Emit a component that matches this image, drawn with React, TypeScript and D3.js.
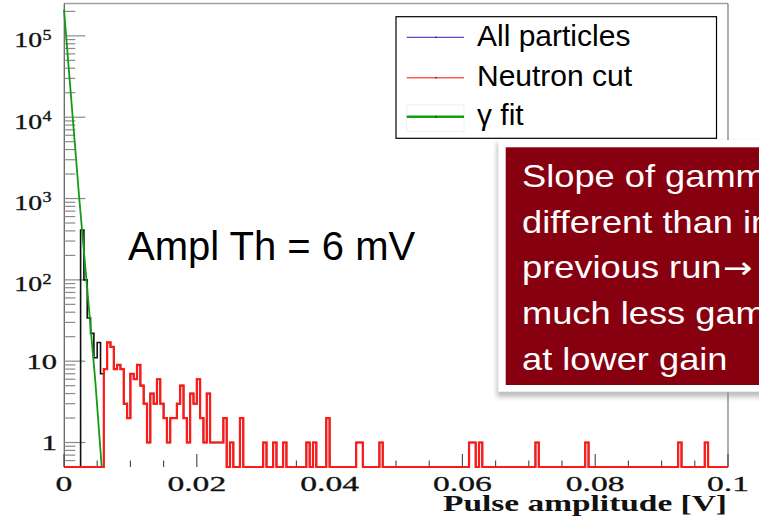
import React from "react";
import * as d3 from "d3";

const binWidth = 0.0005;
const nBins = 200;

// all particles, first bins below the neutron cut (from 0 V)
const allLowCounts = [0, 0, 0, 0, 0, 410, 100, 34, 22, 11, 17, 7];

// neutron cut, dense part starting at 0.006 V
const neutronStart = 0.006;
const neutronDense = [
  8, 17, 15, 8, 9, 8, 3, 2, 7, 6, 9, 5, 3, 1, 4, 3, 6, 3, 2, 1, 2, 2, 3, 5, 2, 1,
  4, 3, 6, 2, 1, 4, 1, 1, 1, 1, 2, 0, 1, 0, 0, 2,
];

// single entries in the tail (bin low edge in V, counts)
const tailEdges = [
  0.03, 0.0315, 0.033, 0.0365, 0.0375, 0.0395, 0.044, 0.0445, 0.0475, 0.061,
  0.0615, 0.0625, 0.071, 0.0785, 0.0925, 0.0965,
];
const tailCounts = [1, 1, 1, 1, 1, 2, 1, 1, 1, 1, 1, 1, 1, 1, 1, 1];

// gamma fit curve
const fitX = [0, 0.0023, 0.0047, 0.00568];
const fitY = [2.1e5, 1000, 5.9, 0.5];

const xTicks = [0, 0.02, 0.04, 0.06, 0.08, 0.1];
const xTickLabels = ["0", "0.02", "0.04", "0.06", "0.08", "0.1"];
const yMajors = [1, 10, 100, 1000, 10000, 100000];
const yTickBase = ["1", "10", "10", "10", "10", "10"];
const yTickExp = ["", "", "2", "3", "4", "5"];

const legendLabels = ["All particles", "Neutron cut", "\u03b3 fit"];
const legendColors = ["#5050d0", "#ff5a5a", "#10a010"];
const legendWidths = [1.2, 1.5, 2.5];

const noteLines = [
  "Slope of gamma is",
  "different than in",
  "previous run",
  "much less gamma",
  "at lower gain",
];

const W = 759;
const H = 523;
const serif = "'Liberation Serif', 'Times New Roman', serif";
const sans = "'Liberation Sans', Arial, sans-serif";

const x = d3.scaleLinear().domain([0, 0.1]).range([64, 728]);
const y = d3.scaleLog().domain([0.5, 2.5e5]).range([467, 3.5]).clamp(true);
const yMin = 0.5;

function buildCounts() {
  const neutron = new Array(nBins).fill(0);
  const i0 = Math.round(neutronStart / binWidth);
  neutronDense.forEach((c, i) => (neutron[i0 + i] = c));
  tailEdges.forEach((e, i) => (neutron[Math.round(e / binWidth)] = tailCounts[i]));
  const all = neutron.map((c, i) => (i < allLowCounts.length ? allLowCounts[i] : c));
  return { neutron, all };
}

const histLine = d3
  .line<[number, number]>()
  .x((d) => x(d[0]))
  .y((d) => y(d[1] > 0 ? d[1] : yMin))
  .curve(d3.curveStepAfter);

function histPath(counts: number[]) {
  const pts: [number, number][] = [[0, 0]];
  counts.forEach((c, i) => pts.push([i * binWidth, c]));
  pts.push([nBins * binWidth, counts[counts.length - 1]]);
  pts.push([nBins * binWidth, 0]);
  return histLine(pts) || "";
}

export default function App() {
  const { neutron, all } = buildCounts();

  const fitLine = d3
    .line<number>()
    .x((d) => x(d))
    .y((_, i) => y(fitY[i]));

  const yTicks = y.ticks();
  const isMajor = (v: number) => Math.abs(Math.log10(v) - Math.round(Math.log10(v))) < 1e-6;
  const xMinor = d3.range(0, 0.1001, 0.005).filter((v) => !xTicks.some((t) => Math.abs(t - v) < 1e-6));

  const base = y(yMin);

  return (
    <svg
      width={W}
      height={H}
      style={{ position: "absolute", left: 0, top: 0, background: "#fff" }}
    >
      <defs>
        <filter id="blur" x="-10%" y="-10%" width="120%" height="120%">
          <feGaussianBlur stdDeviation="2.5" />
        </filter>
      </defs>

      {/* frame */}
      <line x1={64} x2={728} y1={3.5} y2={3.5} stroke="#a0a0a0" strokeWidth={1.5} />
      <line x1={728} x2={728} y1={3.5} y2={467} stroke="#777" strokeWidth={1.2} />
      <line x1={64.3} x2={64.3} y1={3.5} y2={467} stroke="#666" strokeWidth={1.3} />

      {/* y ticks */}
      {yTicks.map((v, i) => (
        <line
          key={"yt" + i}
          x1={64.3}
          x2={64.3 + (isMajor(v) ? 21 : 11)}
          y1={y(v)}
          y2={y(v)}
          stroke="#8a8a8a"
          strokeWidth={1.2}
        />
      ))}

      {/* x ticks */}
      {xTicks.map((v, i) => (
        <line key={"xt" + i} x1={x(v)} x2={x(v)} y1={base} y2={base - 13} stroke="#444" strokeWidth={1.1} />
      ))}
      {xMinor.map((v, i) => (
        <line key={"xm" + i} x1={x(v)} x2={x(v)} y1={base} y2={base - 6.5} stroke="#444" strokeWidth={1.1} />
      ))}

      {/* histograms */}
      <path d={histPath(all)} fill="none" stroke="#111" strokeWidth={1.6} />
      <path d={histPath(neutron)} fill="none" stroke="#ff1a1a" strokeWidth={2.2} />
      <path d={fitLine(fitX) || ""} fill="none" stroke="#159a15" strokeWidth={1.8} />

      {/* y labels */}
      {yMajors.map((v, i) =>
        yTickExp[i] ? (
          <g key={"yl" + i} fontFamily={serif} fill="#111" stroke="#111" strokeWidth={0.35}>
            <text transform={`translate(42,${y(v) + 11.5}) scale(1.32,1)`} fontSize={21} textAnchor="end">
              {yTickBase[i]}
            </text>
            <text transform={`translate(42.5,${y(v) + 3.8}) scale(1.25,1)`} fontSize={14.5}>
              {yTickExp[i]}
            </text>
          </g>
        ) : (
          <text
            key={"yl" + i}
            transform={`translate(57,${y(v) + 7.5}) scale(1.45,1)`}
            fontFamily={serif}
            fontSize={21}
            textAnchor="end"
            fill="#111"
            stroke="#111"
            strokeWidth={0.35}
          >
            {yTickBase[i]}
          </text>
        )
      )}

      {/* x labels */}
      {xTicks.map((v, i) => (
        <text
          key={"xl" + i}
          transform={`translate(${x(v)},491) scale(1.6,1)`}
          fontFamily={serif}
          fontSize={21}
          textAnchor="middle"
          fill="#111"
          stroke="#111"
          strokeWidth={0.3}
        >
          {xTickLabels[i]}
        </text>
      ))}
      <text
        x={443}
        y={511}
        fontFamily={serif}
        fontWeight="bold"
        fontSize={24}
        textLength={284}
        lengthAdjust="spacingAndGlyphs"
        fill="#111"
      >
        Pulse amplitude [V]
      </text>

      {/* threshold note */}
      <text x={128} y={260} fontFamily={sans} fontSize={40} fill="#000">
        Ampl Th = 6 mV
      </text>

      {/* legend */}
      <rect x={396} y={16.7} width={320.5} height={121.6} fill="#fff" stroke="#000" strokeWidth={1.2} />
      <rect x={406.7} y={105} width={57.3} height={26.7} fill="none" stroke="#eee" strokeWidth={1} />
      {legendLabels.map((lab, i) => {
        const ly = [37.3, 77.7, 116.7][i];
        return (
          <g key={"lg" + i}>
            <line x1={406.7} x2={464} y1={ly} y2={ly} stroke={legendColors[i]} strokeWidth={legendWidths[i]} />
            <rect x={435.3} y={ly - 0.8} width={1.4} height={1.6} fill="#333" />
            <text x={477} y={ly + 8.5} fontFamily={sans} fontSize={30} fill="#000">
              {lab}
            </text>
          </g>
        );
      })}

      {/* comment box */}
      <rect x={497} y={143} width={300} height={254} fill="#888" opacity={0.55} filter="url(#blur)" />
      <rect x={498.3} y={140} width={300} height={251.7} fill="#fff" />
      <rect x={505.7} y={147.3} width={300} height={237.7} fill="#87000f" />
      {noteLines.map((t, i) => (
        <text
          key={"nl" + i}
          transform={`translate(522,${186.7 + i * 45.8}) scale(1.17,1)`}
          fontFamily={sans}
          fontSize={31}
          fill="#fff"
        >
          {t}
          {i === 2 ? (
            <tspan fontFamily="'DejaVu Sans', sans-serif" fontSize={30} dx={1}>
              {"\u2192"}
            </tspan>
          ) : null}
        </text>
      ))}
    </svg>
  );
}
